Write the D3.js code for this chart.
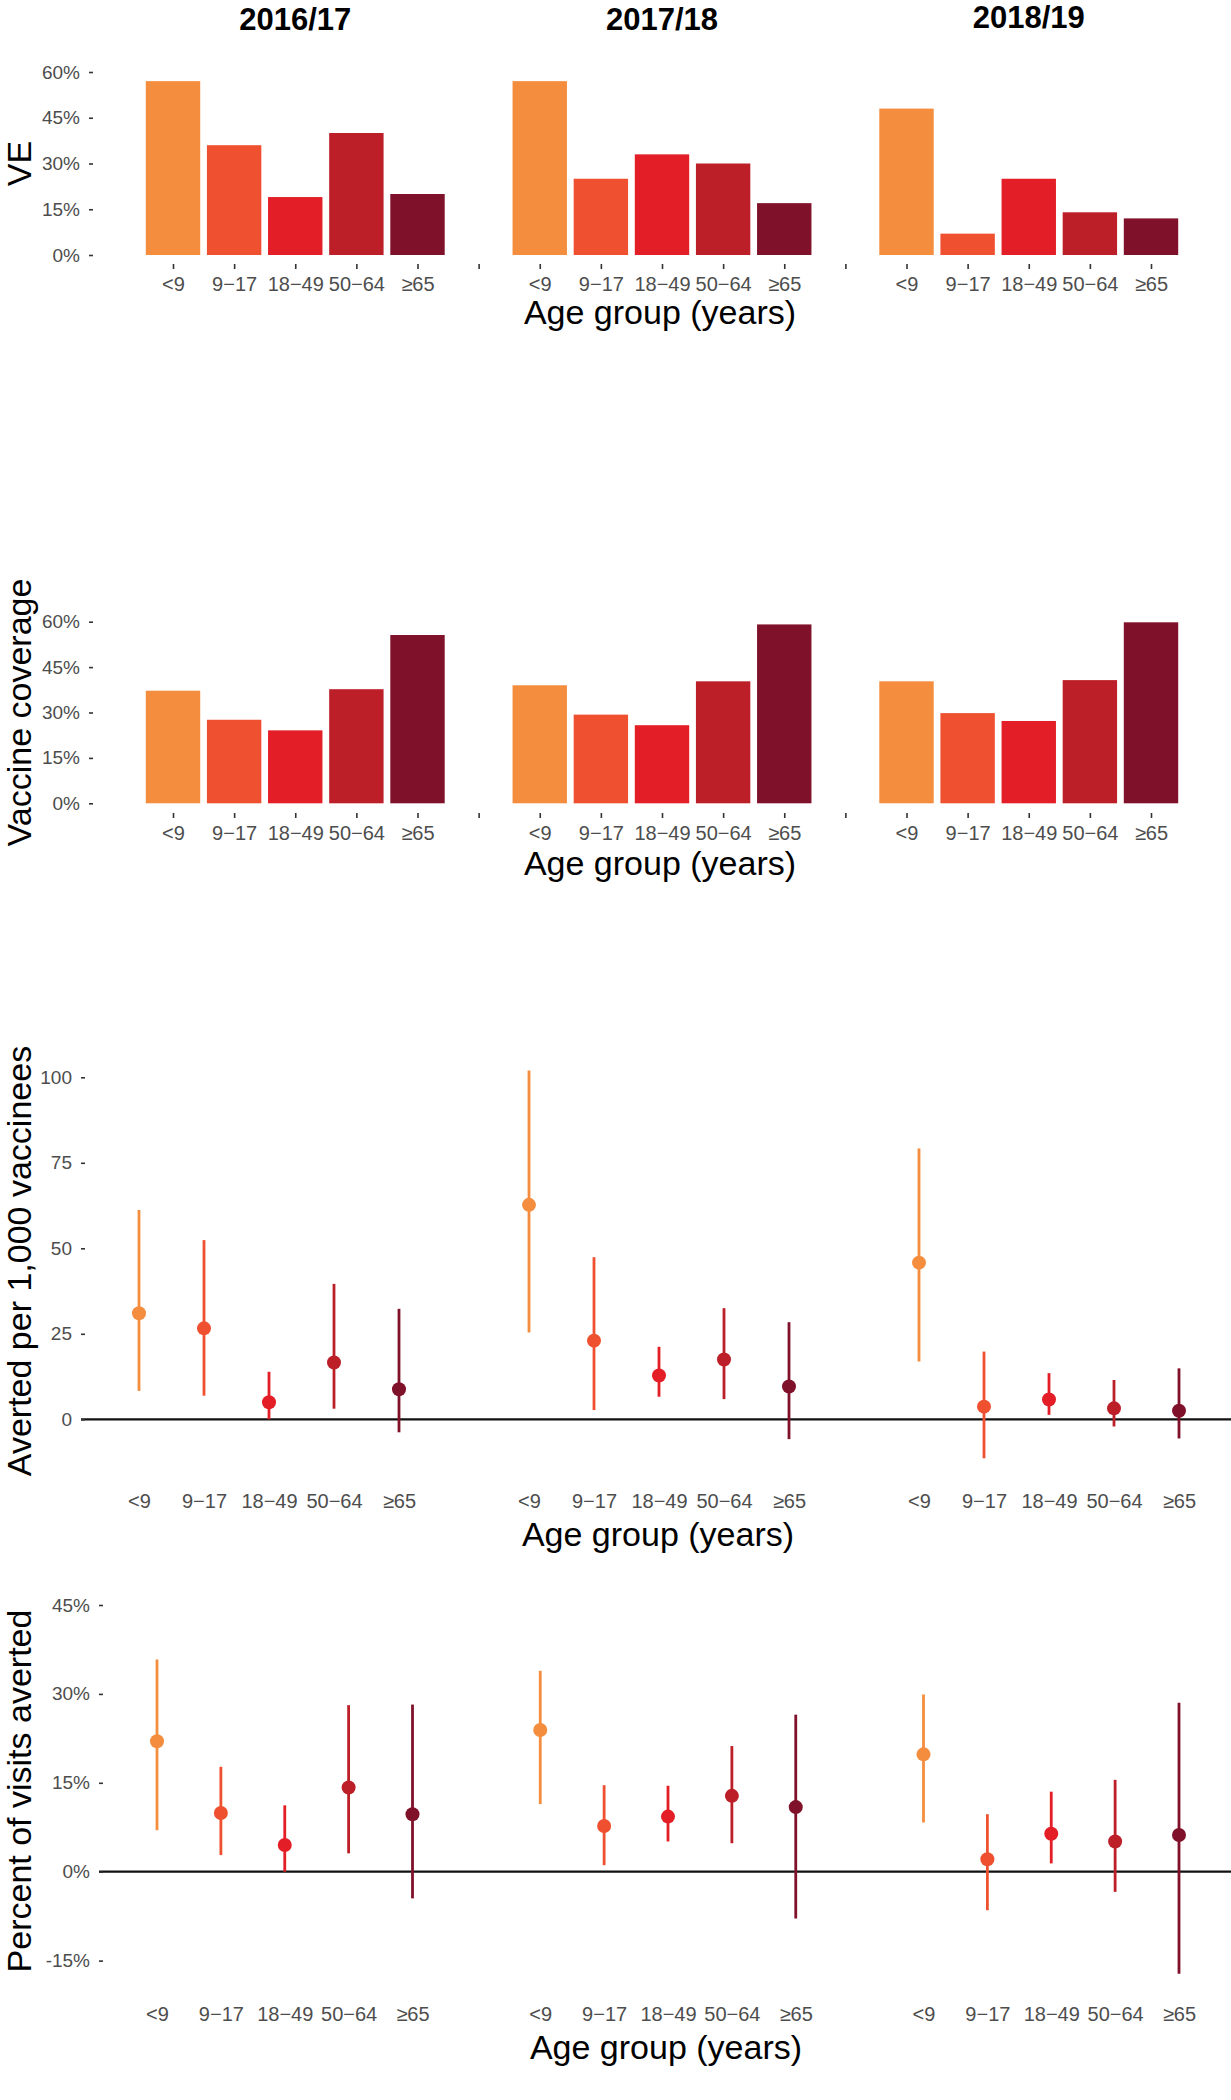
<!DOCTYPE html>
<html><head><meta charset="utf-8">
<script src="https://cdn.jsdelivr.net/npm/d3@7"></script>
<style>
body{margin:0;background:#fff;}
svg{display:block;font-family:"Liberation Sans",Arial,Helvetica,sans-serif;}
</style></head><body>
<svg id="chart" width="1231" height="2100"></svg>
<script>
// ---------------- data ----------------
const seasons = ["2016/17", "2017/18", "2018/19"];
const ageGroups = ["<9", "9\u221217", "18\u221249", "50\u221264", "\u226565"];
const ageColors = ["#F58D3E", "#EF5130", "#E31E27", "#BC1F28", "#80112A"];

const veValues       = [[57, 36, 19, 40, 20], [57, 25, 33, 30, 17], [48, 7, 25, 14, 12]];
const coverageValues = [[37.2, 27.6, 24.1, 37.7, 55.6], [39.0, 29.3, 25.8, 40.3, 59.1], [40.3, 29.8, 27.2, 40.7, 59.8]];

const avertedEst  = [[31.0, 26.6, 5.0, 16.6, 8.8], [62.7, 23.0, 12.8, 17.5, 9.6], [45.8, 3.7, 5.8, 3.2, 2.5]];
const avertedLow  = [[8.3, 6.9, 0.0, 3.1, -3.8], [25.4, 2.7, 6.6, 5.9, -5.8], [16.9, -11.4, 1.3, -2.1, -5.6]];
const avertedHigh = [[61.2, 52.4, 13.9, 39.6, 32.3], [102.0, 47.4, 21.2, 32.5, 28.4], [79.2, 19.8, 13.5, 11.5, 14.9]];

const pctEst  = [[22.0, 9.9, 4.5, 14.2, 9.7], [23.9, 7.7, 9.3, 12.8, 10.9], [19.8, 2.1, 6.4, 5.1, 6.2]];
const pctLow  = [[7.0, 2.8, 0.0, 3.1, -4.5], [11.4, 1.1, 5.1, 4.8, -7.9], [8.3, -6.5, 1.4, -3.4, -17.2]];
const pctHigh = [[35.8, 17.7, 11.2, 28.1, 28.2], [33.9, 14.6, 14.5, 21.2, 26.5], [29.9, 9.7, 13.5, 15.5, 28.5]];

const barTicks = [0, 15, 30, 45, 60];
const avertedTicks = [0, 25, 50, 75, 100];
const pctTicks = [-15, 0, 15, 30, 45];

const yTitles = ["VE", "Vaccine coverage", "Averted per 1,000 vaccinees", "Percent of visits averted"];
const xTitle = "Age group (years)";

// ---------------- slots ----------------
const slots = [];
seasons.forEach((s, si) => {
  ageGroups.forEach((a, ai) => slots.push({key: si + "|" + ai, si, ai, label: a}));
  if (si < seasons.length - 1) slots.push({key: "gap" + si, gap: true, label: ""});
});
const keys = slots.map(d => d.key);
const labelOf = k => slots.find(d => d.key === k).label;

const svg = d3.select("#chart");
const FONT_TICK = 19, FONT_XTICK = 20, FONT_TITLE = 34, FONT_YTITLE = 34;

function styleAxis(g, fs) {
  g.select(".domain").remove();
  g.selectAll(".tick line").attr("stroke", "#333").attr("stroke-width", 1.6);
  g.selectAll(".tick text").attr("fill", "#4d4d4d").style("font-size", fs + "px")
    .attr("font-family", "\"Liberation Sans\",Arial,sans-serif");
}

function yTitle(text, cy) {
  svg.append("text").attr("transform", `translate(31,${cy}) rotate(-90)`)
    .attr("text-anchor", "middle").style("font-size", FONT_YTITLE + "px").attr("fill", "#000").text(text);
}
function xTitleText(cx, y) {
  svg.append("text").attr("x", cx).attr("y", y).attr("text-anchor", "middle")
    .style("font-size", FONT_TITLE + "px").attr("fill", "#000").text(xTitle);
}

// ---------------- bar panels ----------------
function barPanel(values, y, axisX, bottom, titleIdx, ageTitleY) {
  const x = d3.scalePoint().domain(keys).range([173, 1151]);
  const bw = x.step() * 0.89;
  const data = [];
  values.forEach((row, si) => row.forEach((v, ai) => data.push({key: si + "|" + ai, ai, v})));
  svg.append("g").selectAll("rect").data(data).join("rect")
    .attr("x", d => x(d.key) - bw / 2).attr("width", bw)
    .attr("y", d => y(d.v)).attr("height", d => y(0) - y(d.v))
    .attr("fill", d => ageColors[d.ai]);
  const gy = svg.append("g").attr("transform", `translate(${axisX},0)`)
    .call(d3.axisLeft(y).tickValues(barTicks).tickFormat(d => d + "%").tickSize(4).tickPadding(9));
  styleAxis(gy, FONT_TICK);
  const gx = svg.append("g").attr("transform", `translate(0,${bottom})`)
    .call(d3.axisBottom(x).tickSize(5).tickPadding(8).tickFormat(labelOf));
  styleAxis(gx, FONT_XTICK);
  yTitle(yTitles[titleIdx], (y(0) + y(60)) / 2);
  xTitleText(660, ageTitleY);
  return x;
}

const y1 = d3.scaleLinear().domain([0, 60]).range([255, 72]);
const x1 = barPanel(veValues, y1, 93, 264, 0, 324);
const y2 = d3.scaleLinear().domain([0, 60]).range([803.3, 621.7]);
barPanel(coverageValues, y2, 93, 813, 1, 875);

// season titles
const seasonTitleY = [30, 30, 28];
seasons.forEach((s, si) => {
  svg.append("text").attr("x", x1(si + "|2")).attr("y", seasonTitleY[si])
    .attr("text-anchor", "middle").style("font-size", "31px").attr("font-weight", "bold")
    .attr("fill", "#000").text(s);
});

// ---------------- point-range panels ----------------
function pointPanel(est, lo, hi, y, xRange, axisX, ticks, fmt, labelBase, titleIdx, titleCy, ageTitleX, ageTitleY) {
  const x = d3.scalePoint().domain(keys).range(xRange);
  const data = [];
  est.forEach((row, si) => row.forEach((v, ai) => data.push({key: si + "|" + ai, ai, v, lo: lo[si][ai], hi: hi[si][ai]})));
  svg.append("line").attr("x1", axisX).attr("x2", 1231).attr("y1", y(0)).attr("y2", y(0))
    .attr("stroke", "#111").attr("stroke-width", 2.2);
  const g = svg.append("g");
  g.selectAll("line").data(data).join("line")
    .attr("x1", d => x(d.key)).attr("x2", d => x(d.key))
    .attr("y1", d => y(d.lo)).attr("y2", d => y(d.hi))
    .attr("stroke", d => ageColors[d.ai]).attr("stroke-width", 2.8);
  g.selectAll("circle").data(data).join("circle")
    .attr("cx", d => x(d.key)).attr("cy", d => y(d.v)).attr("r", 7)
    .attr("fill", d => ageColors[d.ai]);
  const gy = svg.append("g").attr("transform", `translate(${axisX + 4},0)`)
    .call(d3.axisLeft(y).tickValues(ticks).tickFormat(fmt).tickSize(4).tickPadding(9));
  styleAxis(gy, FONT_TICK);
  const gx = svg.append("g").attr("transform", `translate(0,${labelBase - 14.5})`)
    .call(d3.axisBottom(x).tickSize(0).tickPadding(0).tickFormat(labelOf));
  styleAxis(gx, FONT_XTICK);
  yTitle(yTitles[titleIdx], titleCy);
  xTitleText(ageTitleX, ageTitleY);
}

const y3 = d3.scaleLinear().domain([0, 100]).range([1419.3, 1077.3]);
pointPanel(avertedEst, avertedLow, avertedHigh, y3, [139, 1179], 81, avertedTicks, d => d, 1508, 2, 1261, 658, 1546);

const y4 = d3.scaleLinear().domain([0, 45]).range([1871.7, 1605]);
pointPanel(pctEst, pctLow, pctHigh, y4, [157, 1179], 99, pctTicks, d => d + "%", 2021, 3, 1791, 666, 2059);
</script>
</body></html>
